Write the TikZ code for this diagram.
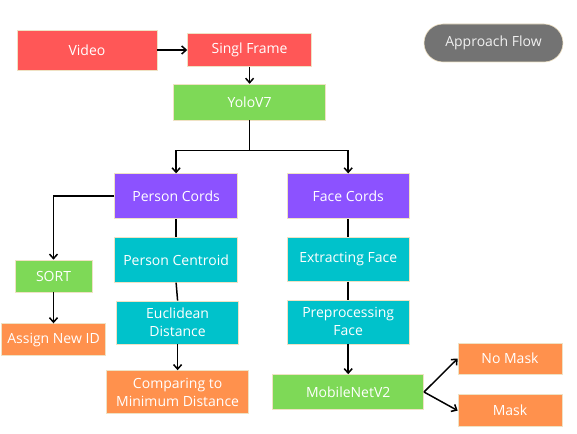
\documentclass[tikz,border=0pt]{standalone}
\usepackage{fontspec}
\setmainfont{Open Sans}
\usetikzlibrary{arrows.meta,positioning}
\definecolor{frame red}{HTML}{FF5757}
\definecolor{yolo green}{HTML}{7ED957}
\definecolor{cord purple}{HTML}{8C52FF}
\definecolor{step teal}{HTML}{00C2CB}
\definecolor{out orange}{HTML}{FF914D}
\definecolor{tag grey}{HTML}{737373}
\definecolor{edge tan}{HTML}{EFE2C4}
\tikzset{
  box/.style={rectangle, draw=edge tan, line width=0.6pt, inner sep=0pt, text=white, align=center,
    font=\fontsize{14}{18}\selectfont},
  redbox/.style={box, fill=frame red},
  greenbox/.style={box, fill=yolo green},
  purplebox/.style={box, fill=cord purple, minimum width=123pt, minimum height=45pt},
  tealbox/.style={box, fill=step teal, minimum width=122pt, minimum height=44pt},
  orangebox/.style={box, fill=out orange},
  tagbox/.style={box, fill=tag grey, text=white!94!black, rounded corners=19pt, minimum width=139pt, minimum height=38pt},
  flow/.style={line width=1.5pt, black},
  >={Straight Barb[length=4.5pt,width=8pt]}
}
\begin{document}
\begin{tikzpicture}[x=1pt,y=1pt]
\useasboundingbox (0,0) rectangle (577,-433);
\node[redbox, minimum width=140pt, minimum height=40pt] (video) at (87,-50) {Video};
\node[redbox, minimum width=124pt, minimum height=33pt] (singl frame) [right=30pt of video] {Singl Frame};
\node[greenbox, minimum width=152pt, minimum height=36pt] (yolo) [below=17pt of singl frame] {YoloV7};
\node[tagbox] (approach flow) at (493.5,-43) {Approach Flow};
\node[purplebox] (person cords) [below=53pt of yolo, xshift=-73.5pt] {Person Cords};
\node[purplebox, minimum width=122pt] (face cords) [right=49pt of person cords] {Face Cords};
\node[tealbox, minimum width=123pt, minimum height=45pt] (person centroid) [below=18pt of person cords] {Person Centroid};
\node[tealbox] (extracting face) [below=18pt of face cords] {Extracting Face};
\node[tealbox, minimum height=43pt] (euclidean distance) [below=18pt of person centroid, xshift=1.5pt] {Euclidean\\Distance};
\node[tealbox] (preprocessing face) [below=18pt of extracting face] {Preprocessing\\Face};
\node[orangebox, minimum width=142pt, minimum height=43pt] (comparing) [below=26pt of euclidean distance] {Comparing to\\Minimum Distance};
\node[greenbox, minimum width=151pt, minimum height=35pt] (mobilenet) [below=30pt of preprocessing face] {MobileNetV2};
\node[greenbox, minimum width=77pt, minimum height=32pt] (sort) at (53.5,-276) {SORT};
\node[orangebox, minimum width=104pt, minimum height=32pt] (assign id) [below=31pt of sort] {Assign New ID};
\node[orangebox, minimum width=104pt, minimum height=31pt] (no mask) at (510,-358.5) {No Mask};
\node[orangebox, minimum width=104pt, minimum height=32pt] (mask) [below=20pt of no mask] {Mask};
\coordinate (split) at ([yshift=-30pt]yolo.south);
\draw[flow, ->] (video.east) -- (singl frame.west);
\draw[flow, ->] (singl frame.south) -- (yolo.north);
\draw[flow] (yolo.south) -- (split);
\draw[flow, ->] (split) -| (person cords.north);
\draw[flow, ->] (split) -| (face cords.north);
\draw[flow, ->] (person cords.west) -| (sort.north);
\draw[flow, ->] (sort.south) -- (assign id.north);
\draw[flow] (person cords.south) -- (person centroid.north);
\draw[flow] (person centroid.south) -- (euclidean distance.north);
\draw[flow, ->] (euclidean distance.south) -- (comparing.north);
\draw[flow] (face cords.south) -- (extracting face.north);
\draw[flow] (extracting face.south) -- (preprocessing face.north);
\draw[flow, ->] (preprocessing face.south) -- (mobilenet.north);
\draw[flow, ->] (mobilenet.east) -- (no mask.west);
\draw[flow, ->] (mobilenet.east) -- (mask.west);
\end{tikzpicture}
\end{document}
